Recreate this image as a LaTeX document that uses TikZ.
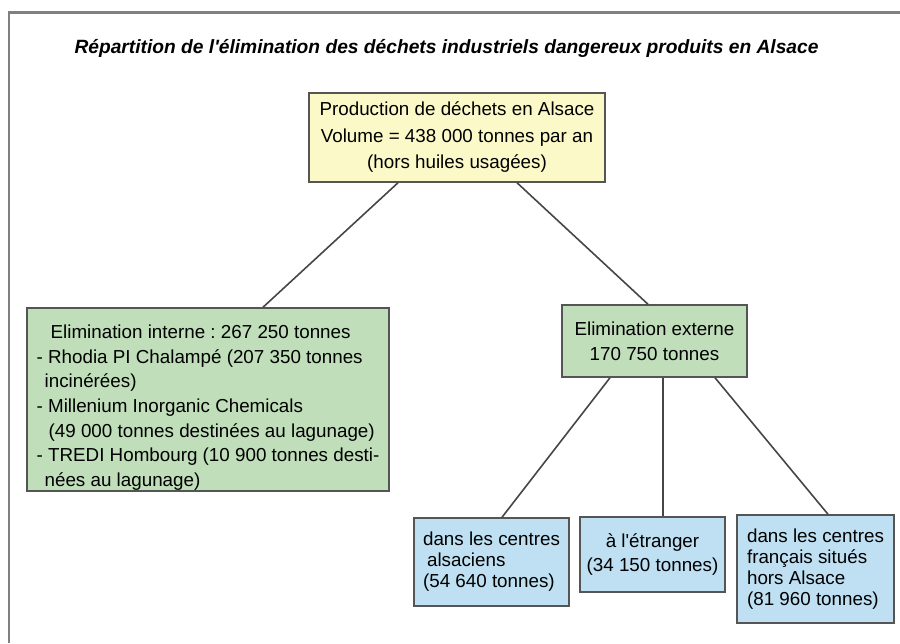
\documentclass[tikz,border=0pt]{standalone}
\usepackage{fontspec}
\setmainfont{Liberation Sans}[Ligatures=TeXOff]
\usetikzlibrary{calc}

\definecolor{jaune}{RGB}{251,249,199}
\definecolor{vert}{RGB}{192,222,186}
\definecolor{bleu}{RGB}{190,224,242}
\definecolor{bord}{RGB}{85,85,85}
\definecolor{trait}{RGB}{70,70,70}
\definecolor{cadre}{RGB}{128,128,128}
\frenchspacing

\begin{document}
\begin{tikzpicture}[x=1pt, y=-1pt,
  boite/.style={draw=bord, line width=1.5pt, inner sep=0pt},
  lien/.style={draw=trait, line width=1.6pt}]
  \useasboundingbox (0,0) rectangle (900,643);
  % cadre
  \draw[cadre, line width=2.5pt] (9,643) -- (9,12.5) -- (900,12.5);
  % titre
  \node[anchor=west, font=\fontsize{19.2}{22}\selectfont\bfseries\itshape] (titre) at (71,48)
    {Répartition de l'élimination des déchets industriels dangereux produits en Alsace};
  % production
  \node[boite, fill=jaune, minimum width=296pt, minimum height=89pt, align=center,
    font=\fontsize{18.8}{26.5}\selectfont] (prod) at (457,137.5)
    {Production de déchets en Alsace\\Volume = 438 000 tonnes par an\\(hors huiles usagées)};
  % elimination interne
  \node[boite, fill=vert, minimum width=362pt, minimum height=183pt, align=left,
    font=\fontsize{18.8}{24.6}\selectfont] (interne) at (208,399.5)
    {\rule{0pt}{30pt}\hspace*{14pt}Elimination interne : 267 250 tonnes\\
     - Rhodia PI Chalampé (207 350 tonnes\\
     \hspace*{8pt}incinérées)\\
     - Millenium Inorganic Chemicals\\
     \hspace*{12pt}(49 000 tonnes destinées au lagunage)\\
     - TREDI Hombourg (10 900 tonnes desti-\\
     \hspace*{8pt}nées au lagunage)};
  % elimination externe
  \node[boite, fill=vert, minimum width=185pt, minimum height=72pt, align=center,
    font=\fontsize{18.8}{25}\selectfont] (externe) at (654.5,341)
    {Elimination externe\\170 750 tonnes};
  % destinations
  \node[boite, fill=bleu, minimum width=155pt, minimum height=88pt, align=left,
    font=\fontsize{18.8}{21}\selectfont] (alsace) at (491.5,562)
    {dans les centres\\\hspace*{4pt}alsaciens\\(54 640 tonnes)};
  \node[boite, fill=bleu, minimum width=145pt, minimum height=75pt, align=center,
    font=\fontsize{18.8}{24}\selectfont] (etranger) at (652.5,554.5)
    {à l'étranger\\(34 150 tonnes)};
  \node[boite, fill=bleu, minimum width=157pt, minimum height=108pt, align=left,
    font=\fontsize{18.8}{21}\selectfont] (france) at (815.5,569)
    {dans les centres\\français situés\\hors Alsace\\(81 960 tonnes)};
  % liens
  \draw[lien] ([xshift=-59pt]prod.south) -- ([xshift=55pt]interne.north);
  \draw[lien] ([xshift=60pt]prod.south) -- ([xshift=-6.5pt]externe.north);
  \draw[lien] ([xshift=-44.5pt]externe.south) -- ([xshift=10.5pt]alsace.north);
  \draw[lien] ([xshift=8.5pt]externe.south) -- ([xshift=10.5pt]etranger.north);
  \draw[lien] ([xshift=60.5pt]externe.south) -- ([xshift=12.5pt]france.north);
\end{tikzpicture}
\end{document}
